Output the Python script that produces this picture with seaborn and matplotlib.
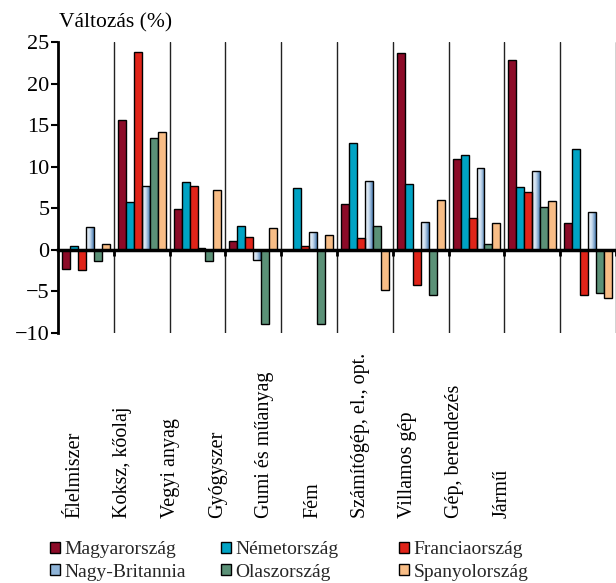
import numpy as np
import pandas as pd
import matplotlib
matplotlib.use("Agg")
import matplotlib.pyplot as plt
import seaborn as sns
from matplotlib.patches import Patch
from matplotlib.colors import LinearSegmentedColormap

categories = ["Élelmiszer", "Koksz, kőolaj", "Vegyi anyag", "Gyógyszer", "Gumi és műanyag",
              "Fém", "Számítógép, el., opt.", "Villamos gép", "Gép, berendezés", "Jármű"]
countries = ["Magyarország", "Németország", "Franciaország",
             "Nagy-Britannia", "Olaszország", "Spanyolország"]

magyar = [-2.3, 15.6, 4.9, 1.1, 0.0, 5.5, 23.7, 10.95, 22.8, 3.25]
nemet = [0.5, 5.8, 8.2, 2.85, 7.5, 12.9, 7.95, 11.35, 7.55, 12.1]
francia = [-2.4, 23.8, 7.7, 1.5, 0.45, 1.45, -4.2, 3.85, 7.0, -5.4]
brit = [2.7, 7.7, 0.25, -1.2, 2.1, 8.3, 3.4, 9.8, 9.5, 4.5]
olasz = [-1.4, 13.5, -1.4, -8.9, -8.9, 2.85, -5.4, 0.7, 5.1, -5.2]
spanyol = [0.7, 14.2, 7.2, 2.6, 1.8, -4.8, 6.0, 3.25, 5.9, -5.8]
series = [magyar, nemet, francia, brit, olasz, spanyol]

colors = ["#8c0b28", "#00a3c4", "#e02419", "#8fb4d8", "#5b9177", "#f8bd86"]
yticks = [-10, -5, 0, 5, 10, 15, 20, 25]

rows = []
for c, vals in zip(countries, series):
    for cat, v in zip(categories, vals):
        rows.append({"kat": cat, "val": v, "orszag": c})
df = pd.DataFrame(rows)

sns.set_theme(style="white")
plt.rcParams["font.family"] = ["Liberation Serif", "DejaVu Serif"]

W, H = 616, 583
fig = plt.figure(figsize=(W / 100, H / 100), dpi=100)
ax = fig.add_axes([58 / W, 1 - 333 / H, 1 - 58 / W, (333 - 42) / H])

sns.barplot(data=df, x="kat", y="val", hue="orszag", order=categories, hue_order=countries,
            palette=dict(zip(countries, colors)), width=0.86, edgecolor="black",
            linewidth=1.0, saturation=1, legend=False, errorbar=None, ax=ax)

# gradient fill for Nagy-Britannia bars
brit_cmap = LinearSegmentedColormap.from_list("brit", ["#f4f8fc", "#c8dbee", "#4a7db3"])
grad = np.linspace(0, 1, 64).reshape(1, -1)
for bar in ax.containers[3]:
    x0 = bar.get_x()
    w = bar.get_width()
    y0 = bar.get_y()
    h = bar.get_height()
    im = ax.imshow(grad, cmap=brit_cmap, aspect="auto", interpolation="bilinear",
                   extent=(x0, x0 + w, min(y0, y0 + h), max(y0, y0 + h)),
                   zorder=bar.get_zorder() - 0.01)
    im.set_clip_path(bar)
    bar.set_facecolor("none")

ax.set_xlim(-0.5, len(categories) - 0.5)
ax.set_ylim(-10, 25)
ax.set_yticks(yticks)
ax.set_xticks(np.arange(0.5, len(categories), 1))
ax.set_xticklabels([])
ax.set_xlabel("")
ax.set_ylabel("")
ax.set_axisbelow(True)
ax.grid(axis="x", color="#222222", lw=1.0)
ax.grid(axis="y", visible=False)

for s in ["top", "right"]:
    ax.spines[s].set_visible(False)
ax.spines["bottom"].set_position(("data", 0))
ax.spines["bottom"].set_linewidth(2.5)
ax.spines["bottom"].set_color("black")
ax.spines["left"].set_linewidth(2)
ax.spines["left"].set_color("black")

ax.tick_params(axis="x", bottom=True, direction="out", length=4, width=2, color="black")
ax.tick_params(axis="y", left=True, direction="out", length=5, width=1.5, color="black",
               labelsize=16, pad=1, labelcolor="black")

fig.text(59 / W, 1 - 23 / H, "Változás (%)", ha="left", va="center", fontsize=15.5, color="black")

for i, cat in enumerate(categories):
    fig.text((75 + 47.5 * i) / W, 1 - 518 / H, cat, rotation=90, rotation_mode="anchor",
             ha="left", va="center", fontsize=14.5, color="black")

# legend: three columns, two rows
order = [(0, 3), (1, 4), (2, 5)]
col_x = [50, 221, 399]
for (a, b), cx in zip(order, col_x):
    handles = [Patch(facecolor=colors[a], edgecolor="black", lw=1),
               Patch(facecolor=colors[b], edgecolor="black", lw=1)]
    fig.legend(handles, [countries[a], countries[b]], loc="upper left",
               bbox_to_anchor=(cx / W, 1 - 541 / H), frameon=False, fontsize=14,
               handlelength=0.5, handleheight=0.5, handletextpad=0.25,
               labelspacing=0.3, borderpad=0, borderaxespad=0)

fig.savefig("out.png", dpi=100)
